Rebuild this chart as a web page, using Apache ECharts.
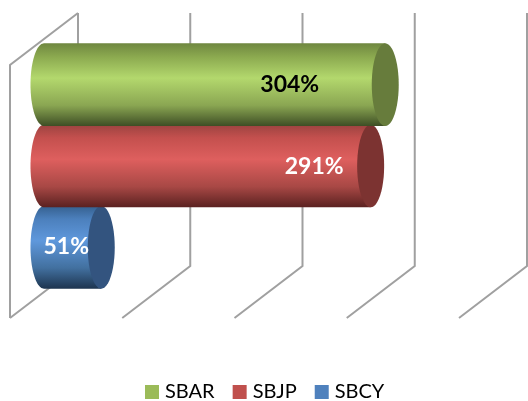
<!DOCTYPE html>
<html><head><meta charset="utf-8">
<style>html,body{margin:0;padding:0;background:#fff}#c{width:528px;height:401px}</style>
<script src="https://cdn.jsdelivr.net/npm/echarts@6/dist/echarts.min.js"></script>
</head><body><div id="c"></div>
<script>
const categories = ['SBAR', 'SBJP', 'SBCY'];
const values = [304, 291, 51];
const ticks = [0, 100, 200, 300, 400];
const bodyStops = [
  ['#6f8740', '#8ba94f', '#b3d86d', '#8aa652', '#3e4e25'],
  ['#9c4340', '#c4504e', '#de5f5e', '#a84845', '#5a2120'],
  ['#35608f', '#4c80bd', '#5f98dc', '#42709f', '#1d344f']
];
const capColors = ['#677c3c', '#7c3331', '#33547f'];
const legendColors = ['#9bbb59', '#c0504d', '#4f81bd'];
const labelColors = ['#000000', '#ffffff', '#ffffff'];
const labelShift = [[-95.5, 0], [-56.5, 0.5], [-35, -1]];

const RX = 13.5, DX = 34, BACK_TOP = 31, BACK_BOT = 22, OVERLAP = 0.7;

function ellipsePts(cx, cy, rx, ry, a0, a1) {
  const out = [];
  const n = 48;
  for (let i = 0; i <= n; i++) {
    const a = a0 + (a1 - a0) * i / n;
    out.push([cx + rx * Math.cos(a), cy + ry * Math.sin(a)]);
  }
  return out;
}

function renderCyl(idx) {
  return function (params, api) {
    const end = api.coord([api.value(0), api.value(1)]);
    const start = api.coord([0, api.value(1)]);
    const h = api.size([0, 1])[1];
    const ry = h / 2 + OVERLAP;
    const cy = end[1];
    const left = ellipsePts(start[0], cy, RX, ry, Math.PI * 1.5, Math.PI * 0.5);
    const body = left.concat([[end[0], cy + ry], [end[0], cy - ry]]);
    const s = bodyStops[idx];
    const grad = new echarts.graphic.LinearGradient(0, 0, 0, 1, [
      { offset: 0, color: s[0] }, { offset: 0.16, color: s[1] },
      { offset: 0.42, color: s[2] }, { offset: 0.75, color: s[3] },
      { offset: 1, color: s[4] }
    ]);
    return {
      type: 'group',
      children: [
        { type: 'polygon', shape: { points: body }, style: { fill: grad } },
        { type: 'polygon', shape: { points: ellipsePts(end[0], cy, RX, ry, 0, Math.PI * 2) }, style: { fill: capColors[idx] } },
        { type: 'text', x: end[0] + labelShift[idx][0], y: cy + labelShift[idx][1], style: {
            text: api.value(0) + '%', fill: labelColors[idx], align: 'center', verticalAlign: 'middle',
            font: 'bold 23px Lato' } }
      ]
    };
  };
}

function renderWalls(params, api) {
  const t = api.value(0);
  const g = params.coordSys;
  const x = api.coord([t, 0])[0];
  const top = g.y, bot = g.y + g.height;
  const st = { stroke: '#a0a0a0', lineWidth: 2, fill: 'none' };
  const pts = [[x + DX, top - BACK_TOP], [x + DX, bot - BACK_BOT], [x - DX, bot + BACK_TOP - 1]];
  const kids = [{ type: 'polyline', shape: { points: pts }, style: st }];
  if (t === ticks[0]) {
    kids.push({ type: 'polyline', shape: { points: [[x + DX, top - BACK_TOP], [x - DX, top + BACK_BOT - 1], [x - DX, bot + BACK_TOP - 1]] }, style: st });
  }
  return { type: 'group', children: kids };
}

const series = [{
  type: 'custom', name: 'walls', silent: true, z: 1, clip: false,
  encode: { x: 0 },
  data: ticks.map(t => [t]),
  renderItem: renderWalls
}];
categories.forEach((name, i) => {
  series.push({
    type: 'custom', name, z: 5 - i, clip: false,
    itemStyle: { color: legendColors[i] },
    encode: { x: 0, y: 1 },
    data: [[values[i], i]],
    renderItem: renderCyl(i)
  });
});

const chart = echarts.init(document.getElementById('c'), null, { renderer: 'canvas' });
chart.setOption({
  animation: false,
  backgroundColor: '#ffffff',
  grid: { left: 44, top: 44, width: 449, height: 244 },
  xAxis: { type: 'value', min: 0, max: 400, interval: 100, show: false },
  yAxis: { type: 'category', data: categories, inverse: true, show: false },
  legend: {
    data: categories, left: 145, top: 382, padding: 0, icon: 'rect', itemWidth: 14, itemHeight: 14, itemGap: 18,
    textStyle: { fontFamily: 'Lato', fontSize: 20, color: '#000', padding: [0, 0, 0, 1] },
    selectedMode: false
  },
  series
});
</script></body></html>
